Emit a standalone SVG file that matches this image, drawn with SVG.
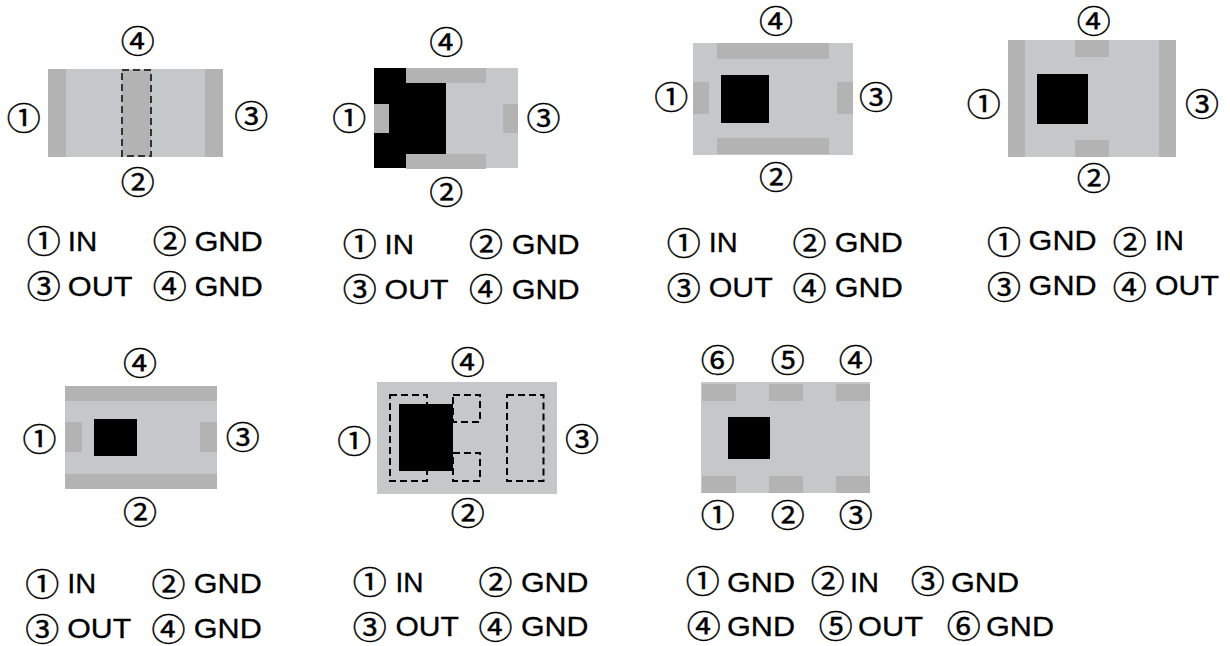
<svg xmlns="http://www.w3.org/2000/svg" width="1230" height="646" viewBox="0 0 1230 646">
<style>
.b{fill:#c6c7c9}.p{fill:#b3b3b3}.k{fill:#000}
.d{fill:none;stroke:#000;stroke-width:2;stroke-dasharray:7 4}
.n{font-family:"Noto Sans CJK JP","Noto Sans CJK SC",sans-serif;font-size:31.500px;text-anchor:middle;fill:#000;stroke:#000;stroke-width:.4;transform:translate(.7px,.4px)}
.t{font-family:"Liberation Sans",Arial,sans-serif;font-size:27.500px;fill:#000;stroke:#000;stroke-width:.3}
</style>
<rect width="1230" height="646" fill="#fff"/>
<g id="pkg1">
<rect class="b" x="48" y="69" width="175" height="88"/>
<rect class="p" x="48" y="69" width="18" height="88"/><rect class="p" x="205" y="69" width="18" height="88"/>
<rect class="p" x="122" y="70" width="29" height="86"/><rect class="d" style="stroke:#333" x="122" y="70" width="29" height="86"/>
<text class="n" textLength="34" lengthAdjust="spacingAndGlyphs" x="137" y="53">④</text><text class="n" textLength="34" lengthAdjust="spacingAndGlyphs" x="23" y="130">①</text><text class="n" textLength="34" lengthAdjust="spacingAndGlyphs" x="250.500" y="128">③</text><text class="n" textLength="34" lengthAdjust="spacingAndGlyphs" x="137" y="194">②</text>
<text class="n" textLength="34" lengthAdjust="spacingAndGlyphs" x="43" y="253">①</text><text class="t" x="67.700" y="250.700" textLength="29.500" lengthAdjust="spacingAndGlyphs">IN</text>
<text class="n" textLength="34" lengthAdjust="spacingAndGlyphs" x="169" y="253">②</text><text class="t" x="194.400" y="250.700" textLength="68.500" lengthAdjust="spacingAndGlyphs">GND</text>
<text class="n" textLength="34" lengthAdjust="spacingAndGlyphs" x="43" y="297.700">③</text><text class="t" x="67.700" y="295.500" textLength="65" lengthAdjust="spacingAndGlyphs">OUT</text>
<text class="n" textLength="34" lengthAdjust="spacingAndGlyphs" x="169" y="297.700">④</text><text class="t" x="194.400" y="295.500" textLength="68.500" lengthAdjust="spacingAndGlyphs">GND</text>
</g>
<g id="pkg2">
<rect class="b" x="374" y="68" width="144" height="100"/>
<rect class="k" x="374" y="68" width="32" height="100"/><rect class="k" x="374" y="83" width="72" height="71"/>
<rect class="p" x="406" y="68" width="80" height="15"/><rect class="p" x="406" y="154" width="80" height="15"/>
<rect class="p" x="374" y="104" width="15" height="29"/><rect class="p" x="503" y="104" width="15" height="29"/>
<text class="n" textLength="34" lengthAdjust="spacingAndGlyphs" x="445.500" y="54">④</text><text class="n" textLength="34" lengthAdjust="spacingAndGlyphs" x="348.600" y="130">①</text><text class="n" textLength="34" lengthAdjust="spacingAndGlyphs" x="542.700" y="130">③</text><text class="n" textLength="34" lengthAdjust="spacingAndGlyphs" x="445.500" y="204">②</text>
<text class="n" textLength="34" lengthAdjust="spacingAndGlyphs" x="359" y="256">①</text><text class="t" x="384.600" y="253.500" textLength="29.500" lengthAdjust="spacingAndGlyphs">IN</text>
<text class="n" textLength="34" lengthAdjust="spacingAndGlyphs" x="485.300" y="256">②</text><text class="t" x="511.700" y="253.500" textLength="68" lengthAdjust="spacingAndGlyphs">GND</text>
<text class="n" textLength="34" lengthAdjust="spacingAndGlyphs" x="359" y="300.700">③</text><text class="t" x="384.600" y="298.500" textLength="64" lengthAdjust="spacingAndGlyphs">OUT</text>
<text class="n" textLength="34" lengthAdjust="spacingAndGlyphs" x="485.300" y="300.700">④</text><text class="t" x="511.700" y="298.500" textLength="68" lengthAdjust="spacingAndGlyphs">GND</text>
</g>
<g id="pkg3">
<rect class="b" x="693" y="43" width="160" height="112"/>
<rect class="p" x="717" y="43" width="112" height="16"/><rect class="p" x="717" y="138" width="112" height="16"/>
<rect class="p" x="693" y="82" width="16" height="32"/><rect class="p" x="837" y="82" width="16" height="32"/>
<rect class="k" x="721" y="75" width="48" height="48"/>
<text class="n" textLength="34" lengthAdjust="spacingAndGlyphs" x="775.300" y="33">④</text><text class="n" textLength="34" lengthAdjust="spacingAndGlyphs" x="670.600" y="109">①</text><text class="n" textLength="34" lengthAdjust="spacingAndGlyphs" x="875.300" y="109">③</text><text class="n" textLength="34" lengthAdjust="spacingAndGlyphs" x="775.300" y="189">②</text>
<text class="n" textLength="34" lengthAdjust="spacingAndGlyphs" x="683" y="255">①</text><text class="t" x="708.700" y="252" textLength="29" lengthAdjust="spacingAndGlyphs">IN</text>
<text class="n" textLength="34" lengthAdjust="spacingAndGlyphs" x="808.700" y="255">②</text><text class="t" x="834.800" y="252" textLength="68" lengthAdjust="spacingAndGlyphs">GND</text>
<text class="n" textLength="34" lengthAdjust="spacingAndGlyphs" x="683" y="299.300">③</text><text class="t" x="708.700" y="297" textLength="64" lengthAdjust="spacingAndGlyphs">OUT</text>
<text class="n" textLength="34" lengthAdjust="spacingAndGlyphs" x="808.700" y="299.300">④</text><text class="t" x="834.800" y="297" textLength="68" lengthAdjust="spacingAndGlyphs">GND</text>
</g>
<g id="pkg4">
<rect class="b" x="1008" y="40" width="168" height="117"/>
<rect class="p" x="1008" y="40" width="17" height="117"/><rect class="p" x="1159" y="40" width="17" height="117"/>
<rect class="p" x="1075" y="40" width="34" height="17"/><rect class="p" x="1075" y="140" width="34" height="17"/>
<rect class="k" x="1037" y="74" width="51" height="50"/>
<text class="n" textLength="34" lengthAdjust="spacingAndGlyphs" x="1093" y="33">④</text><text class="n" textLength="34" lengthAdjust="spacingAndGlyphs" x="983" y="116">①</text><text class="n" textLength="34" lengthAdjust="spacingAndGlyphs" x="1201.300" y="116">③</text><text class="n" textLength="34" lengthAdjust="spacingAndGlyphs" x="1093" y="190">②</text>
<text class="n" textLength="34" lengthAdjust="spacingAndGlyphs" x="1003.300" y="253.700">①</text><text class="t" x="1028.600" y="250" textLength="68" lengthAdjust="spacingAndGlyphs">GND</text>
<text class="n" textLength="34" lengthAdjust="spacingAndGlyphs" x="1129" y="253.700">②</text><text class="t" x="1155" y="250" textLength="29" lengthAdjust="spacingAndGlyphs">IN</text>
<text class="n" textLength="34" lengthAdjust="spacingAndGlyphs" x="1003.300" y="298.700">③</text><text class="t" x="1028.600" y="295" textLength="68" lengthAdjust="spacingAndGlyphs">GND</text>
<text class="n" textLength="34" lengthAdjust="spacingAndGlyphs" x="1129" y="298.700">④</text><text class="t" x="1155" y="295" textLength="64" lengthAdjust="spacingAndGlyphs">OUT</text>
</g>
<g id="pkg5">
<rect class="b" x="65" y="386" width="152" height="103"/>
<rect class="p" x="65" y="386" width="152" height="15"/><rect class="p" x="65" y="474" width="152" height="15"/>
<rect class="p" x="65" y="422" width="17" height="30"/><rect class="p" x="200" y="422" width="17" height="30"/>
<rect class="k" x="94" y="419" width="43" height="37"/>
<text class="n" textLength="34" lengthAdjust="spacingAndGlyphs" x="139.200" y="375">④</text><text class="n" textLength="34" lengthAdjust="spacingAndGlyphs" x="38.800" y="451">①</text><text class="n" textLength="34" lengthAdjust="spacingAndGlyphs" x="242" y="449">③</text><text class="n" textLength="34" lengthAdjust="spacingAndGlyphs" x="139.200" y="524">②</text>
<text class="n" textLength="34" lengthAdjust="spacingAndGlyphs" x="41.500" y="596">①</text><text class="t" x="67.200" y="593" textLength="29" lengthAdjust="spacingAndGlyphs">IN</text>
<text class="n" textLength="34" lengthAdjust="spacingAndGlyphs" x="167.700" y="596">②</text><text class="t" x="193.800" y="593" textLength="68" lengthAdjust="spacingAndGlyphs">GND</text>
<text class="n" textLength="34" lengthAdjust="spacingAndGlyphs" x="41.500" y="641">③</text><text class="t" x="67.200" y="638" textLength="64" lengthAdjust="spacingAndGlyphs">OUT</text>
<text class="n" textLength="34" lengthAdjust="spacingAndGlyphs" x="167.700" y="641">④</text><text class="t" x="193.800" y="638" textLength="68" lengthAdjust="spacingAndGlyphs">GND</text>
</g>
<g id="pkg6">
<rect class="b" x="377" y="382" width="180" height="112"/>
<rect class="d" x="390" y="395" width="37" height="86"/>
<rect class="d" x="453" y="395" width="27" height="27"/><rect class="d" x="453" y="453" width="27" height="28"/>
<rect class="k" x="399" y="404" width="54" height="67"/>
<rect class="d" x="507" y="395" width="36.500" height="86"/>
<text class="n" textLength="34" lengthAdjust="spacingAndGlyphs" x="467" y="374">④</text><text class="n" textLength="34" lengthAdjust="spacingAndGlyphs" x="353.500" y="453">①</text><text class="n" textLength="34" lengthAdjust="spacingAndGlyphs" x="581.300" y="451">③</text><text class="n" textLength="34" lengthAdjust="spacingAndGlyphs" x="467" y="525">②</text>
<text class="n" textLength="34" lengthAdjust="spacingAndGlyphs" x="369" y="593.700">①</text><text class="t" x="395.400" y="592" textLength="28" lengthAdjust="spacingAndGlyphs">IN</text>
<text class="n" textLength="34" lengthAdjust="spacingAndGlyphs" x="494.700" y="593.700">②</text><text class="t" x="521" y="592" textLength="67.500" lengthAdjust="spacingAndGlyphs">GND</text>
<text class="n" textLength="34" lengthAdjust="spacingAndGlyphs" x="369" y="638.700">③</text><text class="t" x="395.400" y="636" textLength="63.500" lengthAdjust="spacingAndGlyphs">OUT</text>
<text class="n" textLength="34" lengthAdjust="spacingAndGlyphs" x="494.700" y="638.700">④</text><text class="t" x="521" y="636" textLength="67.500" lengthAdjust="spacingAndGlyphs">GND</text>
</g>
<g id="pkg7">
<rect class="b" x="701" y="382" width="169" height="111"/>
<rect class="p" x="702" y="384" width="34" height="17"/><rect class="p" x="769" y="384" width="34" height="17"/><rect class="p" x="836" y="384" width="34" height="17"/>
<rect class="p" x="702" y="476" width="34" height="17"/><rect class="p" x="769" y="476" width="34" height="17"/><rect class="p" x="836" y="476" width="34" height="17"/>
<rect class="k" x="728" y="417" width="42" height="42"/>
<text class="n" textLength="34" lengthAdjust="spacingAndGlyphs" x="717" y="372">⑥</text><text class="n" textLength="34" lengthAdjust="spacingAndGlyphs" x="787" y="372">⑤</text><text class="n" textLength="34" lengthAdjust="spacingAndGlyphs" x="855" y="372">④</text>
<text class="n" textLength="34" lengthAdjust="spacingAndGlyphs" x="717" y="527">①</text><text class="n" textLength="34" lengthAdjust="spacingAndGlyphs" x="787" y="527">②</text><text class="n" textLength="34" lengthAdjust="spacingAndGlyphs" x="855" y="527">③</text>
<text class="n" textLength="34" lengthAdjust="spacingAndGlyphs" x="702" y="593">①</text><text class="t" x="727" y="592" textLength="68" lengthAdjust="spacingAndGlyphs">GND</text>
<text class="n" textLength="34" lengthAdjust="spacingAndGlyphs" x="827" y="593">②</text><text class="t" x="850" y="592" textLength="29" lengthAdjust="spacingAndGlyphs">IN</text>
<text class="n" textLength="34" lengthAdjust="spacingAndGlyphs" x="927" y="593">③</text><text class="t" x="951" y="592" textLength="68" lengthAdjust="spacingAndGlyphs">GND</text>
<text class="n" textLength="34" lengthAdjust="spacingAndGlyphs" x="703" y="638">④</text><text class="t" x="727" y="636" textLength="68" lengthAdjust="spacingAndGlyphs">GND</text>
<text class="n" textLength="34" lengthAdjust="spacingAndGlyphs" x="835" y="638">⑤</text><text class="t" x="858" y="636" textLength="65" lengthAdjust="spacingAndGlyphs">OUT</text>
<text class="n" textLength="34" lengthAdjust="spacingAndGlyphs" x="963" y="638">⑥</text><text class="t" x="986" y="636" textLength="68" lengthAdjust="spacingAndGlyphs">GND</text>
</g>
</svg>
